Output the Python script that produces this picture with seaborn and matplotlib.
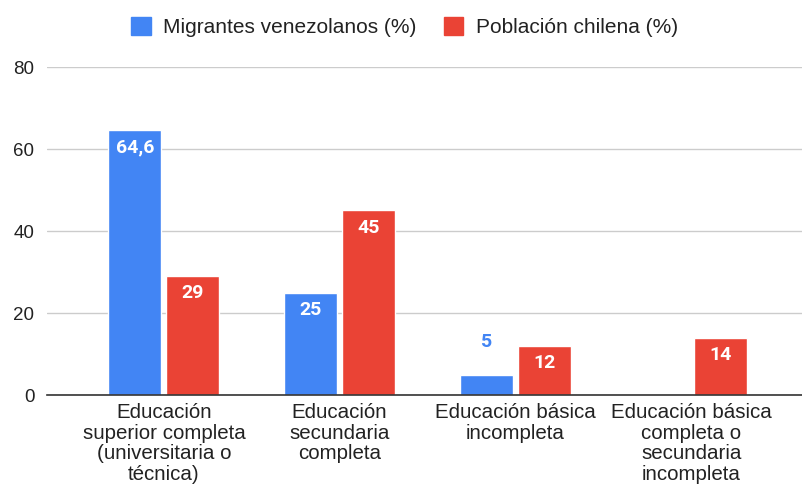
import matplotlib
matplotlib.use("Agg")
import matplotlib.pyplot as plt
import seaborn as sns
import pandas as pd
import numpy as np
from matplotlib.patches import Patch

categories = [
    "Educación\nsuperior completa\n(universitaria o\ntécnica)",
    "Educación\nsecundaria\ncompleta",
    "Educación básica\nincompleta",
    "Educación básica\ncompleta o\nsecundaria\nincompleta",
]
series_names = ["Migrantes venezolanos (%)", "Población chilena (%)"]
venezolanos = [64.6, 25, 5, np.nan]
chilena = [29, 45, 12, 14]
yticks = [0, 20, 40, 60, 80]
colors = ["#4285F4", "#EA4335"]

df = pd.DataFrame({
    "cat": categories * 2,
    "serie": [series_names[0]] * 4 + [series_names[1]] * 4,
    "valor": venezolanos + chilena,
})

sns.set_theme(style="white")
plt.rcParams["font.family"] = ["Liberation Sans", "DejaVu Sans"]

fig = plt.figure(figsize=(8.02, 4.86), dpi=100)
ax = fig.add_axes([47 / 802, 1 - 395 / 486, 1 - 47 / 802, (395 - 67) / 486])

sns.barplot(data=df, x="cat", y="valor", hue="serie", order=categories,
            hue_order=series_names, palette=colors, width=0.66, gap=0.085,
            saturation=1, ax=ax, legend=False)

ax.set_ylim(0, 80)
ax.set_xlim(-0.665, 3.63)
ax.set_yticks(yticks)
ax.set_yticklabels([str(t) for t in yticks])
ax.set_xticks(range(len(categories)))
ax.set_xticklabels(categories, linespacing=1.1)
ax.yaxis.grid(True, color="#cccccc", linewidth=1)
ax.set_axisbelow(True)
for s in ["top", "right", "left"]:
    ax.spines[s].set_visible(False)
ax.spines["bottom"].set_color("#333333")
ax.spines["bottom"].set_linewidth(1.2)
ax.spines["bottom"].set_zorder(5)
ax.set_xlabel("")
ax.set_ylabel("")
ax.tick_params(axis="y", length=0, pad=9, labelsize=13.5, labelcolor="#222222")
ax.tick_params(axis="x", length=0, pad=6, labelsize=14.8, labelcolor="#222222")

def fmt(v):
    s = f"{v:.1f}".rstrip("0").rstrip(".")
    return s.replace(".", ",")

for ci, cont in enumerate(ax.containers):
    for bar in cont:
        h = bar.get_height()
        if h is None or np.isnan(h) or h == 0:
            continue
        x = bar.get_x() + bar.get_width() / 2
        if h >= 10:
            ax.annotate(fmt(h), (x, h), xytext=(0, -12.5), textcoords="offset points",
                        ha="center", va="center", color="white",
                        fontsize=14, fontweight="bold", family=["Roboto", "DejaVu Sans"])
        else:
            ax.annotate(fmt(h), (x, h), xytext=(0, 23.5), textcoords="offset points",
                        ha="center", va="center", color=colors[ci],
                        fontsize=14, fontweight="bold", family=["Roboto", "DejaVu Sans"])

handles = [Patch(facecolor=c, edgecolor=c) for c in colors]
fig.legend(handles, series_names, loc="center", bbox_to_anchor=(404.5 / 802, 1 - 27 / 486),
           ncol=2, frameon=False, fontsize=15, handlelength=0.95, handleheight=0.95,
           handletextpad=0.58, columnspacing=1.3, labelcolor="#222222")

fig.savefig("out.png", dpi=100)
